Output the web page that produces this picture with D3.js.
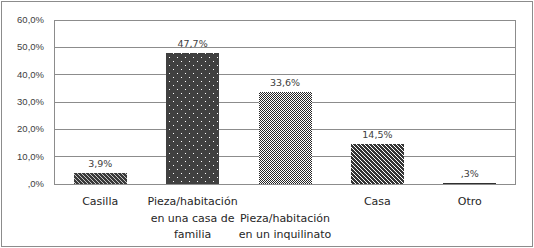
<!DOCTYPE html>
<html lang="es">
<head>
<meta charset="UTF-8">
<script src="https://d3js.org/d3.v7.min.js"></script>
<style>
  body { margin: 0; background: #fff; }
  svg { display: block; font-family: "DejaVu Sans", Verdana, sans-serif; }
  .y-axis text { font-size: 9.5px; fill: #404040; }
  .cat { font-size: 11px; fill: #262626; }
  .val { font-size: 9.5px; fill: #404040; }
</style>
</head>
<body>
<div id="chart"></div>
<script>
// Data
const categories = ["Casilla", "Pieza casa", "Pieza inquilinato", "Casa", "Otro"];
const values = [3.9, 47.7, 33.6, 14.5, 0.3];
const valueLabels = ["3,9%", "47,7%", "33,6%", "14,5%", ",3%"];
const catLabels = [
  ["Casilla"],
  ["Pieza/habitación", "en una casa de", "familia"],
  ["", "Pieza/habitación", "en un inquilinato"],
  ["Casa"],
  ["Otro"]
];
const yTicks = [0, 10, 20, 30, 40, 50, 60];
const fills = ["url(#p-hatch)", "url(#p-dots)", "url(#p-check)", "url(#p-diag)", "#303030"];

const width = 534, height = 248;
const margin = { top: 19, right: 18, bottom: 64, left: 54 };

const svg = d3.select("#chart").append("svg")
  .attr("width", width)
  .attr("height", height)
  .attr("shape-rendering", "crispEdges");

// Patterns
const defs = svg.append("defs");

const hatch = defs.append("pattern").attr("id", "p-hatch")
  .attr("patternUnits", "userSpaceOnUse").attr("width", 4).attr("height", 4);
hatch.append("rect").attr("width", 4).attr("height", 4).attr("fill", "#3a3a3a");
hatch.append("path").attr("d", "M0,0 L4,4 M-1,3 L1,5 M3,-1 L5,1")
  .attr("stroke", "#d8d8d8").attr("stroke-width", 0.9).attr("shape-rendering", "auto");

const dots = defs.append("pattern").attr("id", "p-dots")
  .attr("patternUnits", "userSpaceOnUse").attr("width", 8).attr("height", 8);
dots.append("rect").attr("width", 8).attr("height", 8).attr("fill", "#404040");
dots.append("rect").attr("x", 1).attr("y", 1).attr("width", 1).attr("height", 1).attr("fill", "#fff");
dots.append("rect").attr("x", 5).attr("y", 5).attr("width", 1).attr("height", 1).attr("fill", "#fff");

const check = defs.append("pattern").attr("id", "p-check")
  .attr("patternUnits", "userSpaceOnUse").attr("width", 2).attr("height", 2);
check.append("rect").attr("width", 2).attr("height", 2).attr("fill", "#ffffff");
check.append("rect").attr("width", 1).attr("height", 1).attr("fill", "#262626");
check.append("rect").attr("x", 1).attr("y", 1).attr("width", 1).attr("height", 1).attr("fill", "#262626");

const diag = defs.append("pattern").attr("id", "p-diag")
  .attr("patternUnits", "userSpaceOnUse").attr("width", 4).attr("height", 4);
diag.append("rect").attr("width", 4).attr("height", 4).attr("fill", "#353535");
diag.append("path").attr("d", "M0,0 L4,4 M-1,3 L1,5 M3,-1 L5,1")
  .attr("stroke", "#ffffff").attr("stroke-width", 1).attr("shape-rendering", "auto");

// Outer border
svg.append("rect")
  .attr("x", 1.5).attr("y", 1.5)
  .attr("width", width - 3).attr("height", height - 3)
  .attr("fill", "#fff").attr("stroke", "#8c8c8c");

// Scales
const x = d3.scaleBand()
  .domain(categories)
  .range([margin.left, width - margin.right])
  .paddingInner(0.43)
  .paddingOuter(0.215);

const y = d3.scaleLinear()
  .domain([0, 60])
  .range([height - margin.bottom - 0.5, margin.top + 0.5]);

// Gridlines
svg.append("g")
  .selectAll("line")
  .data(yTicks)
  .join("line")
  .attr("x1", margin.left).attr("x2", width - margin.right)
  .attr("y1", d => Math.round(y(d)) + 0.5).attr("y2", d => Math.round(y(d)) + 0.5)
  .attr("stroke", "#8c8c8c").attr("stroke-width", 1);

// Plot border sides
svg.append("line")
  .attr("x1", margin.left + 0.5).attr("x2", margin.left + 0.5)
  .attr("y1", y(60)).attr("y2", y(0))
  .attr("stroke", "#8c8c8c");
svg.append("line")
  .attr("x1", width - margin.right - 0.5).attr("x2", width - margin.right - 0.5)
  .attr("y1", y(60)).attr("y2", y(0))
  .attr("stroke", "#8c8c8c");

// Y axis labels
svg.append("g")
  .attr("class", "y-axis")
  .attr("transform", `translate(${margin.left},0)`)
  .call(d3.axisLeft(y).tickValues(yTicks).tickSize(0).tickPadding(10)
    .tickFormat(d => d === 0 ? ",0%" : d3.format(".1f")(d).replace(".", ",") + "%"))
  .call(g => g.select(".domain").remove());

// Bars
svg.append("g")
  .selectAll("rect")
  .data(values)
  .join("rect")
  .attr("x", (d, i) => Math.round(x(categories[i])))
  .attr("width", Math.round(x.bandwidth()))
  .attr("y", d => Math.min(Math.round(y(d)), Math.round(y(0)) - 1))
  .attr("height", d => Math.max(1, Math.round(y(0)) - Math.round(y(d))))
  .attr("fill", (d, i) => fills[i]);

// Value labels
svg.append("g")
  .selectAll("text")
  .data(values)
  .join("text")
  .attr("class", "val")
  .attr("x", (d, i) => x(categories[i]) + x.bandwidth() / 2)
  .attr("y", d => y(d) - 6)
  .attr("text-anchor", "middle")
  .text((d, i) => valueLabels[i]);

// Category labels
const catG = svg.append("g")
  .selectAll("text")
  .data(catLabels)
  .join("text")
  .attr("class", "cat")
  .attr("text-anchor", "middle")
  .attr("x", (d, i) => x(categories[i]) + x.bandwidth() / 2)
  .attr("y", 205);

catG.selectAll("tspan")
  .data(d => d)
  .join("tspan")
  .attr("x", function () { return d3.select(this.parentNode).attr("x"); })
  .attr("dy", (d, i) => i === 0 ? 0 : 16.5)
  .text(d => d);
</script>
</body>
</html>
